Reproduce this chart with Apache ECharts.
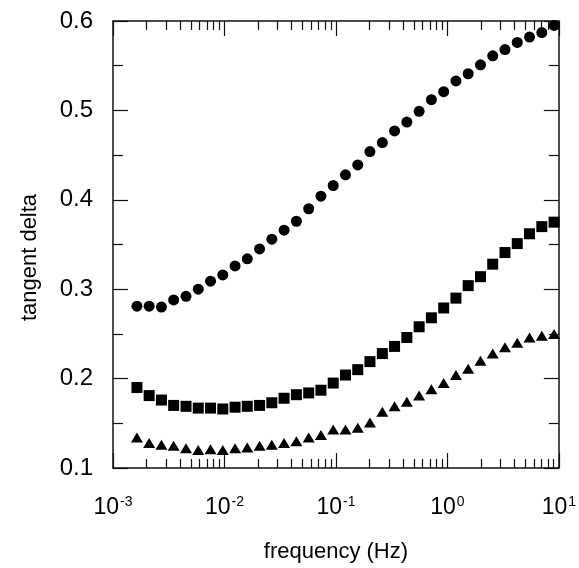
<!DOCTYPE html>
<html>
<head>
<meta charset="utf-8">
<script src="https://cdn.jsdelivr.net/npm/echarts@6/dist/echarts.min.js"></script>
<style>html,body{margin:0;padding:0;background:#fff}#c{width:579px;height:568px}</style>
</head>
<body>
<div id="c"></div>
<script>
// frequencies (Hz)
const freq = [0.00164,0.00211,0.00272,0.00350,0.00452,0.00582,0.00750,0.00966,0.01245,0.01603,
  0.02066,0.02661,0.03428,0.0442,0.0570,0.0734,0.0946,0.1219,0.157,0.202,
  0.261,0.336,0.433,0.558,0.719,0.927,1.194,1.538,1.982,2.553,
  3.289,4.237,5.46,7.04,9.07];
const circles = [0.281,0.281,0.280,0.288,0.292,0.300,0.309,0.316,0.326,0.334,
  0.345,0.356,0.366,0.376,0.390,0.404,0.416,0.428,0.439,0.454,
  0.464,0.477,0.487,0.499,0.512,0.521,0.533,0.541,0.551,0.561,
  0.568,0.576,0.582,0.587,0.595];
const squares = [0.190,0.181,0.176,0.170,0.169,0.167,0.167,0.166,0.168,0.169,
  0.170,0.173,0.178,0.182,0.184,0.187,0.195,0.204,0.210,0.219,
  0.228,0.236,0.246,0.258,0.268,0.279,0.290,0.304,0.314,0.328,
  0.341,0.351,0.362,0.370,0.375];
const triangles = [0.134,0.128,0.126,0.125,0.122,0.120,0.121,0.120,0.122,0.123,
  0.125,0.126,0.128,0.130,0.134,0.137,0.143,0.143,0.145,0.151,
  0.163,0.169,0.174,0.181,0.188,0.195,0.204,0.211,0.220,0.228,
  0.235,0.240,0.246,0.248,0.250];
const majorX = [0.001,0.01,0.1,1,10];
const minorMult = [2,3,4,5,6,7,8,9];
const minorX = [];
majorX.slice(0,-1).forEach(d => minorMult.forEach(m => minorX.push(+(m*d).toPrecision(3))));
const yTicks = ['0.1','0.2','0.3','0.4','0.5','0.6'];

const pairs = ys => freq.map((f,i) => [f, ys[i]]);
const lineStyle = {color:'#111', width:1.5};
const font = 'Liberation Sans, Arial, sans-serif';

function xAxisDef(pos, major, labels) {
  return {
    type:'log', logBase:10, min:0.001, max:10, position:pos,
    axisLine:{show:major, lineStyle},
    splitLine:{show:false},
    axisTick:{show:true, inside:true, length: major?15:9, lineStyle:{color:'#111',width:1.2},
      customValues: major ? majorX : minorX},
    axisLabel:{show:labels, customValues:majorX, margin:27, fontFamily:font, color:'#000',
      formatter: v => '{b|10}{s|' + Math.round(Math.log10(v)) + '}',
      rich:{b:{fontSize:23, fontFamily:font, color:'#000'},
            s:{fontSize:14, fontFamily:font, color:'#000', padding:[0,0,12,1]}}},
    name: labels ? 'frequency (Hz)' : '', nameLocation:'middle', nameGap:73,
    nameTextStyle:{fontSize:22, fontFamily:font, color:'#000'}
  };
}
function yAxisDef(pos, labels) {
  return {
    type:'value', min:0.1, max:0.6, interval:0.1, position:pos,
    axisLine:{show:true, lineStyle},
    splitLine:{show:false},
    axisTick:{show:true, inside:true, length:15, lineStyle:{color:'#111',width:1.2}},
    minorTick:{show:true, splitNumber:2, length:10, lineStyle:{color:'#111',width:1.2}},
    axisLabel:{show:labels, margin:20, fontSize:24, fontFamily:font, color:'#000',
      formatter: v => yTicks[Math.round((v-0.1)*10)] || ''},
    name: labels ? 'tangent delta' : '', nameLocation:'middle', nameGap:72,
    nameTextStyle:{fontSize:22, fontFamily:font, color:'#000', padding:[0,26,0,0]}
  };
}

const chart = echarts.init(document.getElementById('c'), null, {renderer:'canvas'});
const mk = {color:'#000', opacity:1};
chart.setOption({
  animation:false,
  backgroundColor:'#fff',
  grid:{left:113, right:10, top:21, bottom:91, containLabel:false},
  xAxis:[xAxisDef('bottom',true,true), xAxisDef('bottom',false,false),
         xAxisDef('top',true,false), xAxisDef('top',false,false)],
  yAxis:[yAxisDef('left',true), yAxisDef('right',false)],
  series:[
    {type:'scatter', data:pairs(circles), symbol:'circle', symbolSize:11, itemStyle:mk},
    {type:'scatter', data:pairs(squares), symbol:'rect', symbolSize:11, itemStyle:mk},
    {type:'scatter', data:pairs(triangles), symbol:'triangle', symbolSize:[12,10], itemStyle:mk}
  ]
});
</script>
</body>
</html>
